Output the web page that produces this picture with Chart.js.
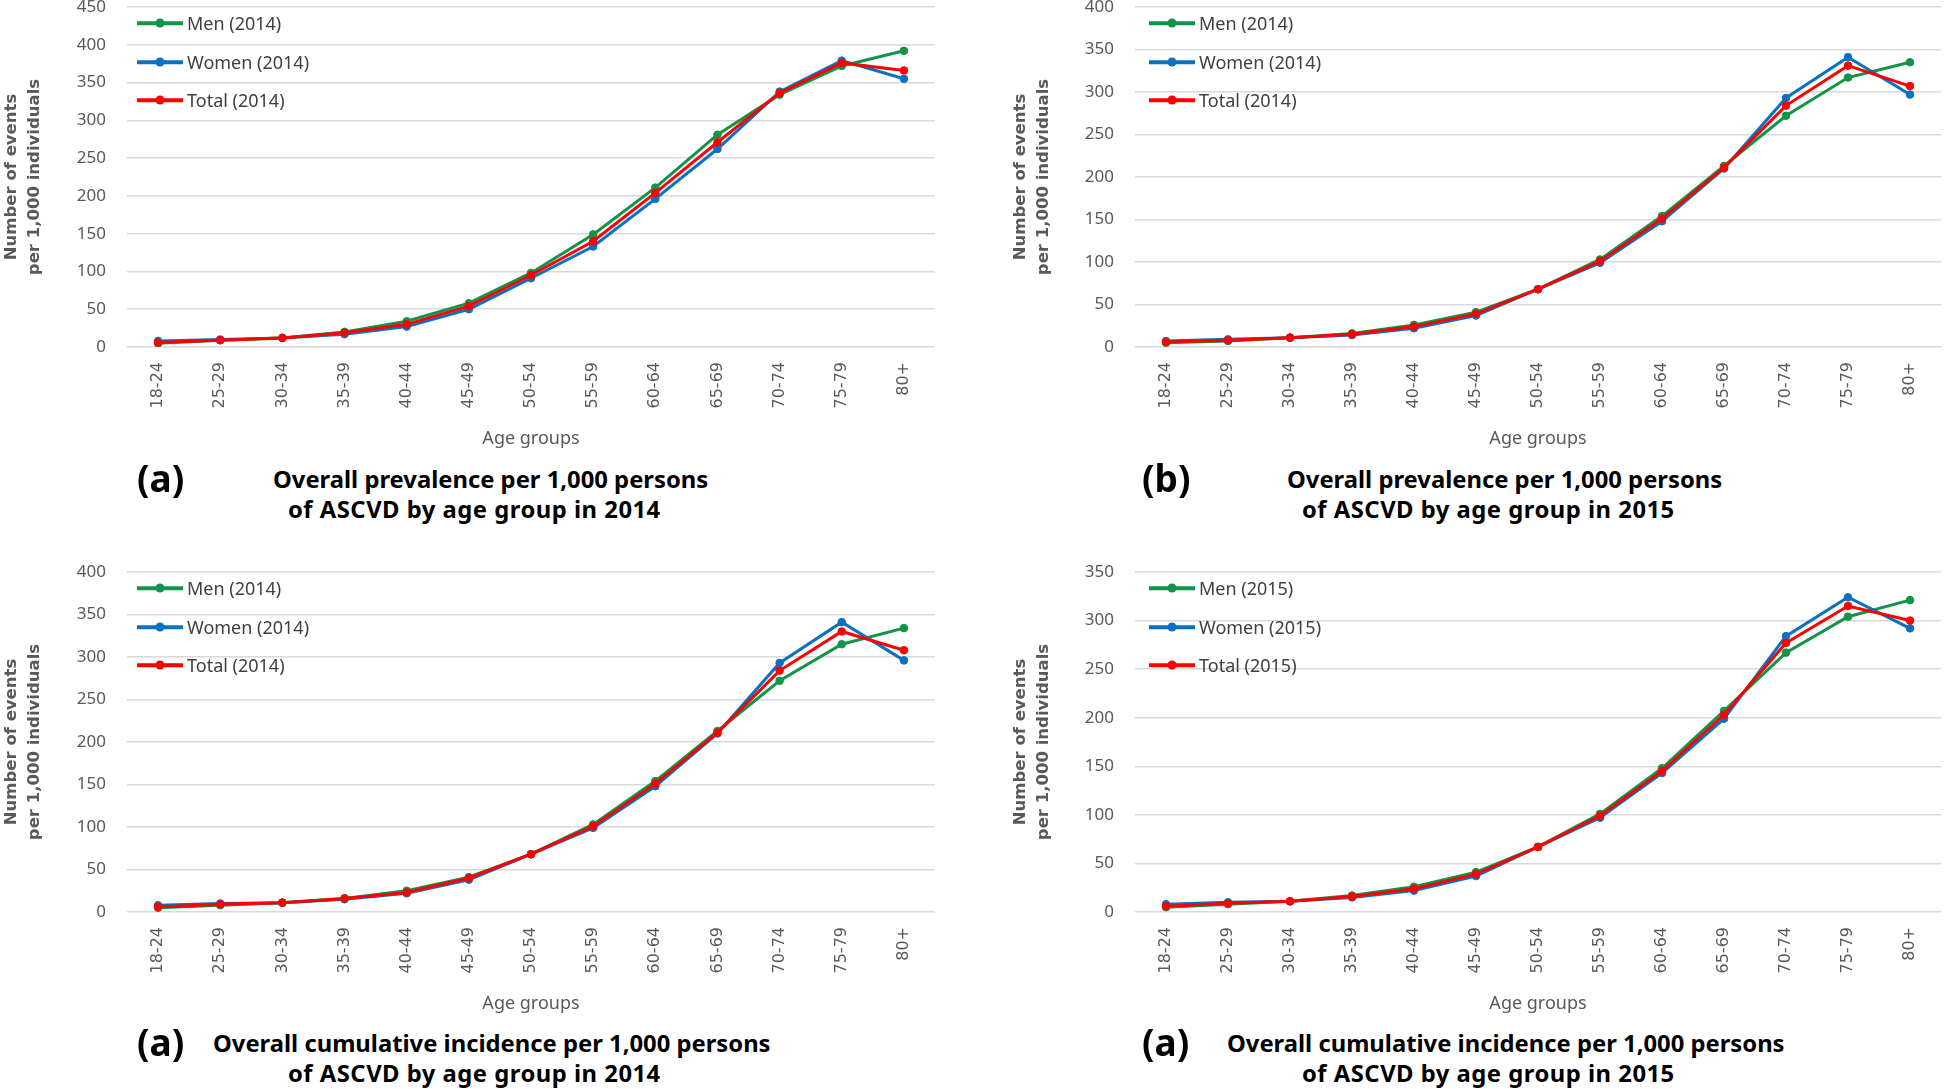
<!DOCTYPE html>
<html><head><meta charset="utf-8">
<script src="https://cdn.jsdelivr.net/npm/chart.js@4.4.1/dist/chart.umd.min.js"></script>
<style>
html,body{margin:0;padding:0;width:1946px;height:1089px;overflow:hidden;background:#fff;position:relative;}
canvas{position:absolute;}
.lgtext{position:absolute;font-family:'Noto Sans';font-size:18px;color:#404040;white-space:nowrap;line-height:24px;transform:translateY(-50%);}
.lgline{position:absolute;height:3.5px;transform:translateY(-50%);}
.lgdot{position:absolute;width:9px;height:9px;border-radius:50%;transform:translate(-50%,-50%);}
.lab{position:absolute;font-family:'Noto Sans';font-weight:bold;font-size:37px;color:#000;white-space:nowrap;line-height:44px;transform:translateY(-50%);}
.ttl{position:absolute;font-family:'Noto Sans';font-weight:bold;font-size:23.8px;color:#000;white-space:nowrap;line-height:30px;transform:translateY(-50%);}
.ttl2{letter-spacing:0.5px;}
</style></head><body>
<script>
// ---------- DATA ----------
const categories = ['18-24','25-29','30-34','35-39','40-44','45-49','50-54','55-59','60-64','65-69','70-74','75-79','80+'];
const seriesNames2014 = ['Men (2014)','Women (2014)','Total (2014)'];
const seriesNames2015 = ['Men (2015)','Women (2015)','Total (2015)'];

// (a) Overall prevalence 2014
const prev2014Men   = [5, 9, 12, 20, 34, 58, 98, 149, 211, 281, 334, 372, 392];
const prev2014Women = [8, 10, 12, 17, 27, 50, 91, 133, 196, 262, 338, 379, 355];
const prev2014Total = [6, 9, 12, 19, 30, 54, 95, 140, 204, 271, 336, 376, 366];
// (b) Overall prevalence 2015
const prev2015Men   = [5, 7, 11, 16, 26, 41, 68, 103, 154, 213, 272, 317, 335];
const prev2015Women = [7, 9, 11, 14, 22, 37, 68, 99, 148, 210, 293, 341, 297];
const prev2015Total = [6, 8, 11, 15, 24, 39, 68, 101, 151, 211, 284, 331, 307];
// (a) Cumulative incidence 2014
const inc2014Men    = [5, 8, 11, 16, 25, 41, 68, 103, 154, 213, 272, 315, 334];
const inc2014Women  = [8, 10, 11, 15, 22, 38, 68, 99, 148, 210, 293, 341, 296];
const inc2014Total  = [6, 9, 11, 16, 23, 40, 68, 101, 151, 211, 284, 330, 308];
// (a) Cumulative incidence 2015
const inc2015Men    = [5, 8, 11, 17, 26, 41, 67, 101, 148, 207, 267, 304, 321];
const inc2015Women  = [8, 10, 11, 15, 22, 37, 67, 97, 143, 199, 284, 324, 292];
const inc2015Total  = [6, 9, 11, 16, 24, 39, 67, 99, 145, 203, 277, 315, 300];

const yMaxPrev2014 = 450, yMaxPrev2015 = 400, yMaxInc2014 = 400, yMaxInc2015 = 350;
const yStep = 50;
const xAxisTitle = 'Age groups';
const yAxisTitle = ['Number of events','per 1,000 individuals'];

const panelLetters = ['(a)','(b)','(a)','(a)'];
const panelTitles = [
  ['Overall prevalence per 1,000 persons','of ASCVD by age group in 2014'],
  ['Overall prevalence per 1,000 persons','of ASCVD by age group in 2015'],
  ['Overall cumulative incidence per 1,000 persons','of ASCVD by age group in 2014'],
  ['Overall cumulative incidence per 1,000 persons','of ASCVD by age group in 2015']
];

// ---------- STYLE / LAYOUT ----------
const colors = ['#119447','#0a70c0','#ff0000'];

const panels = [
  {series:[prev2014Men,prev2014Women,prev2014Total], names:seriesNames2014, yMax:yMaxPrev2014,
   left:0, top:-30, width:940, padRight:5, yW:127,
   lg:{lineL:137,lineR:183,textL:187,ys:[23,62,100]},
   lab:{x:137,y:478}, t1:{x:273,y:479}, t2:{x:288,y:509}},
  {series:[prev2015Men,prev2015Women,prev2015Total], names:seriesNames2014, yMax:yMaxPrev2015,
   left:1009, top:-30, width:937, padRight:1, yW:126,
   lg:{lineL:1149,lineR:1195,textL:1199,ys:[23,62,100]},
   lab:{x:1142,y:478}, t1:{x:1287,y:479}, t2:{x:1302,y:509}},
  {series:[inc2014Men,inc2014Women,inc2014Total], names:seriesNames2014, yMax:yMaxInc2014,
   left:0, top:535, width:940, padRight:5, yW:127,
   lg:{lineL:137,lineR:183,textL:187,ys:[588,627,665]},
   lab:{x:137,y:1042}, t1:{x:213,y:1043}, t2:{x:288,y:1073}},
  {series:[inc2015Men,inc2015Women,inc2015Total], names:seriesNames2015, yMax:yMaxInc2015,
   left:1009, top:535, width:937, padRight:1, yW:126,
   lg:{lineL:1149,lineR:1195,textL:1199,ys:[588,627,665]},
   lab:{x:1142,y:1042}, t1:{x:1227,y:1043}, t2:{x:1302,y:1073}}
];
const canvasH = 484;

function addDiv(cls, x, y, text){
  const d = document.createElement('div');
  d.className = cls; d.style.left = x+'px'; d.style.top = y+'px';
  if (text !== undefined) d.textContent = text;
  document.body.appendChild(d);
  return d;
}

panels.forEach((p, idx) => {
  const c = document.createElement('canvas');
  c.width = p.width; c.height = canvasH;
  c.style.left = p.left+'px'; c.style.top = p.top+'px';
  c.style.width = p.width+'px'; c.style.height = canvasH+'px';
  document.body.appendChild(c);

  const datasets = p.series.map((arr, i) => ({
    label: p.names[i], data: arr,
    borderColor: colors[i], backgroundColor: colors[i],
    pointBackgroundColor: colors[i], pointBorderColor: colors[i],
    borderWidth: 3, pointRadius: 3.8, pointBorderWidth: 1, tension: 0,
    order: 3 - i
  }));

  new Chart(c, {
    type: 'line',
    data: {labels: categories, datasets},
    options: {
      responsive: false, animation: false, devicePixelRatio: 1,
      layout: {padding: {top: 37, left: 0, right: p.padRight, bottom: 0}},
      plugins: {legend: {display: false}, tooltip: {enabled: false}},
      scales: {
        x: {
          offset: true,
          grid: {display: false, drawTicks: false},
          border: {display: false},
          ticks: {font: {family: 'DejaVu Sans', size: 16}, color: '#595959',
                  maxRotation: 90, minRotation: 90, padding: 15, autoSkip: false},
          title: {display: true, text: xAxisTitle, font: {family: 'Noto Sans', size: 18},
                  color: '#595959', padding: {top: 4, bottom: 4}},
          afterFit(s){ s.height = 107; }
        },
        y: {
          min: 0, max: p.yMax,
          ticks: {stepSize: yStep, font: {family: 'Noto Sans', size: 17}, color: '#595959', padding: 21},
          grid: {color: '#d9d9d9', lineWidth: 1.5, drawTicks: false},
          border: {display: false},
          title: {display: true, text: yAxisTitle,
                  font: {family: 'DejaVu Sans', size: 16.5, weight: 'bold', lineHeight: 1.4},
                  color: '#595959', padding: {top: 0, bottom: 0}},
          afterFit(s){ s.width = p.yW; }
        }
      }
    }
  });

  // legend (inside plot, top-left)
  p.names.forEach((n, i) => {
    const y = p.lg.ys[i];
    const ln = addDiv('lgline', p.lg.lineL, y);
    ln.style.width = (p.lg.lineR - p.lg.lineL) + 'px';
    ln.style.background = colors[i];
    const dt = addDiv('lgdot', (p.lg.lineL + p.lg.lineR)/2, y);
    dt.style.background = colors[i];
    addDiv('lgtext', p.lg.textL, y, n);
  });

  addDiv('lab', p.lab.x, p.lab.y, panelLetters[idx]);
  addDiv('ttl', p.t1.x, p.t1.y, panelTitles[idx][0]);
  addDiv('ttl ttl2', p.t2.x, p.t2.y, panelTitles[idx][1]);
});
</script>
</body></html>
